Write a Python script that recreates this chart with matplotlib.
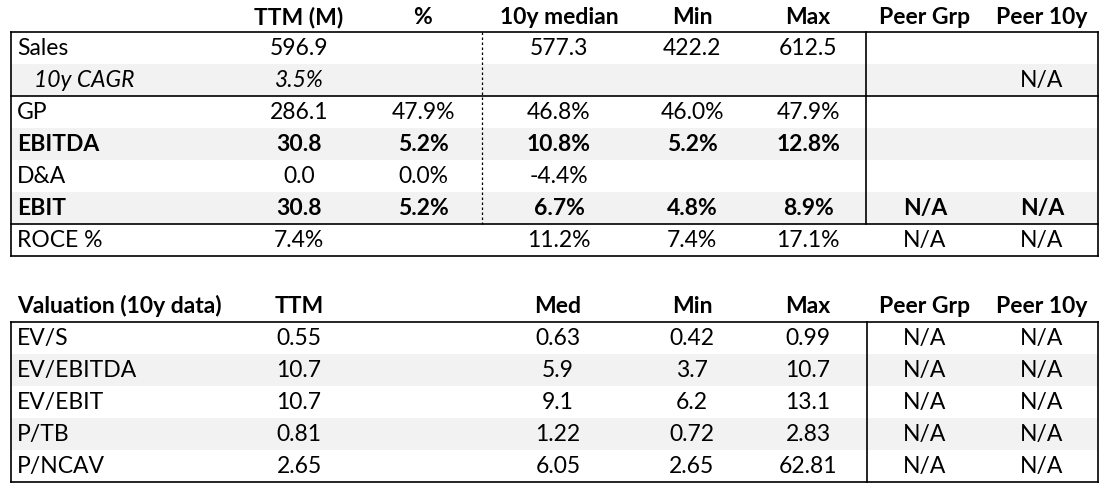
import matplotlib
matplotlib.use("Agg")
import matplotlib.pyplot as plt
from matplotlib.patches import Rectangle

plt.rcParams['font.family'] = ['Lato', 'DejaVu Sans']

# top table: operating metrics
top_labels = ["Sales", "10y CAGR", "GP", "EBITDA", "D&A", "EBIT", "ROCE %"]
top_ttm = ["596.9", "3.5%", "286.1", "30.8", "0.0", "30.8", "7.4%"]
top_pct = ["", "", "47.9%", "5.2%", "0.0%", "5.2%", ""]
top_med = ["577.3", "", "46.8%", "10.8%", "-4.4%", "6.7%", "11.2%"]
top_min = ["422.2", "", "46.0%", "5.2%", "", "4.8%", "7.4%"]
top_max = ["612.5", "", "47.9%", "12.8%", "", "8.9%", "17.1%"]
top_peer = ["", "", "", "", "", "N/A", "N/A"]
top_peer10 = ["", "N/A", "", "", "", "N/A", "N/A"]
top_headers = ["TTM (M)", "%", "10y median", "Min", "Max", "Peer Grp", "Peer 10y"]

# bottom table: valuation
val_labels = ["EV/S", "EV/EBITDA", "EV/EBIT", "P/TB", "P/NCAV"]
val_ttm = ["0.55", "10.7", "10.7", "0.81", "2.65"]
val_med = ["0.63", "5.9", "9.1", "1.22", "6.05"]
val_min = ["0.42", "3.7", "6.2", "0.72", "2.65"]
val_max = ["0.99", "10.7", "13.1", "2.83", "62.81"]
val_peer = ["N/A"] * 5
val_peer10 = ["N/A"] * 5
val_headers = ["Valuation (10y data)", "TTM", "Med", "Min", "Max", "Peer Grp", "Peer 10y"]

W, H = 1108, 498
FS = 16.5
SHADE = "#f2f2f2"
LEFT, RIGHT = 11, 1098
ROW = 32

fig = plt.figure(figsize=(W / 100, H / 100), dpi=100)
ax = fig.add_axes([0, 0, 1, 1])
ax.set_xlim(0, W)
ax.set_ylim(H, 0)
ax.axis('off')


def hline(y, x0=LEFT, x1=RIGHT, **kw):
    ax.plot([x0, x1], [y, y], color='black', lw=1.2, solid_capstyle='projecting', **kw)


def vline(x, y0, y1, **kw):
    opts = dict(color='black', lw=1.2)
    opts.update(kw)
    ax.plot([x, x], [y0, y1], **opts)


# ---- top table ----
top0 = 32
cols_top = [299, 423, 559, 692, 808, 925, 1042]
for i, h in enumerate(top_headers):
    ax.text(cols_top[i], 17, h, ha='center', va='center', fontsize=FS, fontweight='bold')

shaded_top = [1, 3, 5]
for r in shaded_top:
    ax.add_patch(Rectangle((LEFT, top0 + r * ROW), RIGHT - LEFT, ROW, color=SHADE, lw=0))

columns = [top_ttm, top_pct, top_med, top_min, top_max, top_peer, top_peer10]
for r, lab in enumerate(top_labels):
    yc = top0 + r * ROW + ROW / 2
    weight = 'bold' if lab in ("EBITDA", "EBIT") else 'normal'
    italic = lab == "10y CAGR"
    lx = 34 if italic else 17
    ax.text(lx, yc, lab, ha='left', va='center', fontsize=FS, fontweight=weight,
            fontstyle='italic' if italic else 'normal')
    for c, col in enumerate(columns):
        if col[r]:
            # only the CAGR value itself is italic, the peer N/A is not
            st = 'italic' if (italic and c == 0) else 'normal'
            ax.text(cols_top[c], yc, col[r], ha='center', va='center', fontsize=FS,
                    fontweight=weight, fontstyle=st)

bot_top = top0 + len(top_labels) * ROW
for y in [top0, top0 + 2 * ROW, top0 + 6 * ROW, bot_top]:
    hline(y)
vline(LEFT, top0, bot_top)
vline(RIGHT, top0, bot_top)
vline(482, top0, top0 + 6 * ROW, lw=0.9, linestyle=(0, (2, 2)))
vline(866, top0, top0 + 6 * ROW)

# ---- bottom table ----
v0 = 322
cols_val = [299, 558, 692, 808, 925, 1042]
ax.text(17, 306, val_headers[0], ha='left', va='center', fontsize=FS, fontweight='bold')
for i, h in enumerate(val_headers[1:]):
    ax.text(cols_val[i], 306, h, ha='center', va='center', fontsize=FS, fontweight='bold')

for r in [1, 3]:
    ax.add_patch(Rectangle((LEFT, v0 + r * ROW), RIGHT - LEFT, ROW, color=SHADE, lw=0))

vcols = [val_ttm, val_med, val_min, val_max, val_peer, val_peer10]
for r, lab in enumerate(val_labels):
    yc = v0 + r * ROW + ROW / 2
    ax.text(17, yc, lab, ha='left', va='center', fontsize=FS)
    for c, col in enumerate(vcols):
        ax.text(cols_val[c], yc, col[r], ha='center', va='center', fontsize=FS)

v1 = v0 + len(val_labels) * ROW
hline(v0)
hline(v1)
vline(LEFT, v0, v1)
vline(RIGHT, v0, v1)
vline(867, v0, v1)

fig.savefig("out.png", dpi=100)
